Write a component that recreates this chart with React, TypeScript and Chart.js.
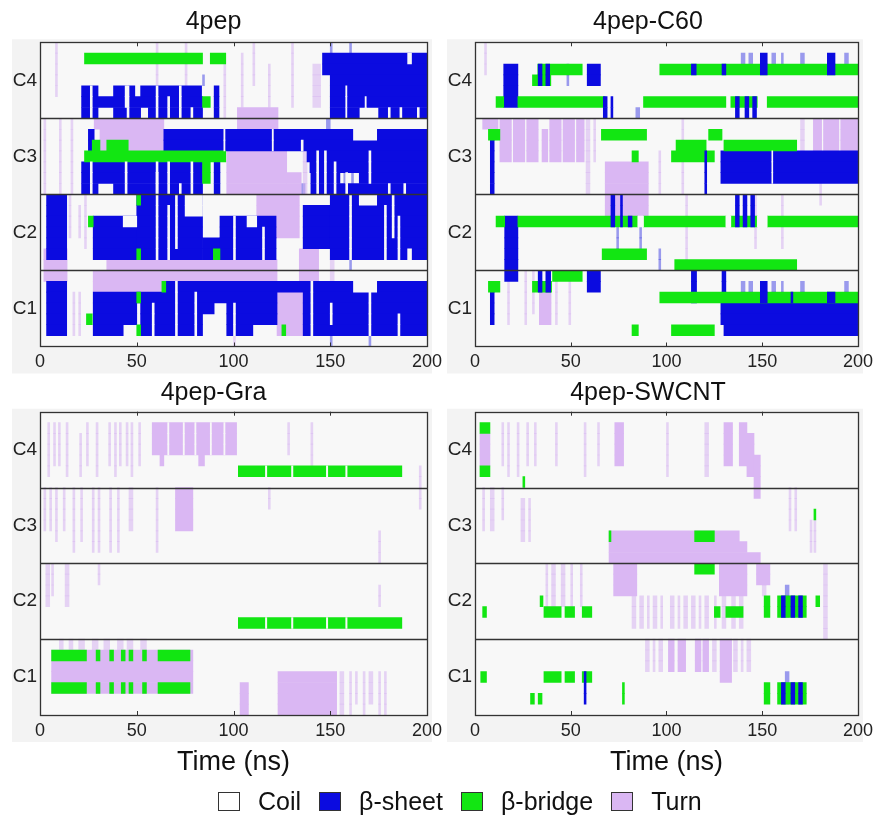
import React, { useEffect, useRef } from 'react';
import { Chart, registerables } from 'chart.js';

Chart.register(...registerables);

// ---------- data ----------
// Each segment: [firstRow, lastRow, startNs, endNs]; rows 0..27 from top (C4 rows 0-6, C3 7-13, C2 14-20, C1 21-27)
type Seg = [number, number, number, number];

const panelTitles = ['4pep', '4pep-C60', '4pep-Gra', '4pep-SWCNT'];
const chainLabels = ['C4', 'C3', 'C2', 'C1'];
const timeTicks = [0, 50, 100, 150, 200];
const legendLabels = ['Coil', 'β-sheet', 'β-bridge', 'Turn'];
const xAxisTitle = 'Time (ns)';
const ROWS_PER_CHAIN = 7;

// ---- 4pep ----
const pepSheet: Seg[] = [
  [1, 2, 146, 200], [3, 5, 150, 200], [6, 6, 150, 165], [6, 6, 175, 200],
  [4, 4, 21.5, 30], [4, 4, 38, 49], [4, 4, 52, 83.5], [4, 4, 90, 92.5],
  [5, 5, 21.5, 84], [5, 5, 90, 92.5],
  [6, 6, 21.5, 30], [6, 6, 38, 52], [6, 6, 56, 84], [6, 6, 90, 92.5],
  [8, 9, 25, 28], [8, 9, 64, 200],
  [10, 10, 138, 200],
  [11, 11, 21.5, 84], [11, 11, 90, 93], [11, 11, 139.5, 200],
  [12, 12, 21.5, 84], [12, 12, 90, 93], [12, 12, 140, 155], [12, 12, 165, 200],
  [13, 13, 21.5, 30], [13, 13, 38, 84], [13, 13, 90, 93], [13, 13, 140, 200],
  [14, 19, 3.4, 13.8], [16, 19, 27.5, 50], [14, 19, 50, 84],
  [18, 18, 84, 93], [19, 19, 84, 89.6],
  [16, 19, 93, 122], [15, 18, 136, 150], [14, 19, 150, 200],
  [22, 26, 3.4, 13.8], [22, 22, 65, 200],
  [23, 23, 27.5, 122.5], [23, 23, 136, 200],
  [24, 24, 27.5, 50], [24, 24, 52, 90], [24, 24, 96.5, 122.5], [24, 24, 136, 200],
  [25, 25, 27.5, 50], [25, 25, 52, 84], [25, 25, 96.5, 122.5], [25, 25, 136, 200],
  [26, 26, 27.5, 43], [26, 26, 52, 84], [26, 26, 96.5, 110], [26, 26, 136, 200],
];
const pepSheetStripe: Seg[] = [];
const pepSheetFaint: Seg[] = [
  [0, 0, 150, 151], [0, 0, 160, 161], [12, 12, 157, 158], [12, 12, 161, 162], [13, 13, 135, 137],
  [20, 20, 160, 161], [27, 27, 150, 151], [27, 27, 170, 171], [3, 3, 84, 85], [7, 7, 148, 150],
];
const pepBridge: Seg[] = [
  [1, 1, 23, 84], [1, 1, 88, 96], [5, 5, 84, 88],
  [9, 9, 27, 31], [9, 9, 34.5, 45.6], [10, 10, 23, 96], [11, 12, 84, 88],
  [14, 14, 50, 52], [16, 16, 25, 27.5], [19, 19, 89.6, 93], [19, 19, 50, 52],
  [22, 22, 63, 65], [23, 23, 50, 52], [26, 26, 50, 52], [26, 26, 125, 127], [25, 25, 24, 27],
];
const pepTurn: Seg[] = [
  [7, 7, 28, 64], [8, 9, 31, 64], [6, 7, 102, 123],
  [10, 13, 96.5, 127.5], [12, 13, 127.5, 135],
  [14, 17, 112, 134], [19, 21, 2, 14],
  [20, 21, 34.5, 122.5], [21, 21, 27.5, 34.5], [22, 22, 27.5, 64],
  [19, 21, 134, 144], [23, 26, 122.5, 136],
];
const pepTurnFaint: Seg[] = [
  [2, 5, 141, 145], [0, 3, 60, 61], [0, 3, 75, 76], [0, 3, 110, 111], [2, 5, 118, 119],
  [0, 5, 130, 131], [7, 13, 2, 3], [7, 13, 10, 11], [7, 13, 16, 17], [10, 13, 136, 138],
  [14, 17, 15, 16], [15, 17, 20, 21], [20, 21, 150, 152], [23, 26, 17, 18], [23, 26, 20, 21],
  [0, 4, 8, 9], [1, 5, 104, 105], [2, 6, 95, 96], [14, 18, 23, 24], [24, 27, 100, 101],
];
const pepCoil: Seg[] = [
  [8, 8, 162, 174], [14, 14, 165, 174], [16, 16, 43, 50], [14, 15, 75, 84],
  [16, 16, 107, 112], [19, 19, 190, 192], [22, 22, 162, 174], [1, 1, 190, 192],
  [4, 6, 45, 46], [11, 13, 60, 61], [24, 25, 150, 151], [14, 17, 182, 183],
  [4, 6, 158, 158.6], [5, 6, 168, 168.6], [6, 6, 180, 181], [6, 6, 186, 187], [6, 6, 195, 196],
  [10, 13, 143, 144], [10, 13, 147, 148], [11, 13, 152, 153], [12, 13, 158, 159], [10, 12, 170, 171],
  [13, 13, 180, 181], [13, 13, 188, 189],
  [4, 6, 26, 27], [4, 5, 44, 45], [4, 6, 60, 61], [5, 6, 66, 67], [4, 6, 72, 73], [6, 6, 78, 79],
  [11, 13, 26, 27], [11, 13, 44, 45], [12, 13, 60, 61], [11, 13, 66, 67], [13, 13, 72, 73], [11, 13, 78, 79],
  [14, 19, 60, 61], [15, 19, 66, 67], [14, 18, 70, 71], [16, 19, 100, 101], [17, 19, 115, 116],
  [14, 19, 160, 161], [15, 19, 178, 179], [16, 19, 185, 186],
  [22, 26, 70, 71], [23, 26, 80, 81], [24, 26, 100, 101], [22, 26, 140, 141], [23, 26, 170, 171],
  [25, 26, 185, 186], [24, 26, 58, 59], [8, 9, 95, 95.6], [8, 9, 120, 120.6], [9, 9, 135, 136],
];

// ---- 4pep-C60 ----
const c60Sheet: Seg[] = [
  [2, 5, 15, 22.4], [2, 3, 58.6, 65.5], [8, 13, 8, 10], [10, 12, 128.4, 200],
  [16, 21, 15.5, 22.4], [21, 22, 58.6, 65.5], [22, 25, 8, 10],
  [24, 25, 128.4, 200], [26, 26, 130, 200], [21, 23, 113, 115.7], [21, 23, 129, 131],
];
const c60SheetStripe: Seg[] = [
  [2, 3, 33, 35], [2, 3, 37, 39], [2, 2, 113, 115.5], [2, 2, 129, 131], [1, 2, 149, 152.6], [1, 2, 184, 188],
  [5, 6, 136, 138], [5, 6, 141, 143], [5, 6, 145, 147], [5, 6, 67, 69], [5, 6, 71, 72],
  [14, 16, 71, 73], [14, 16, 76, 77], [16, 16, 80, 82], [14, 16, 136, 138], [14, 16, 140, 142], [14, 16, 144, 146],
  [21, 22, 33, 35], [21, 22, 37, 39.5], [22, 23, 149, 152.6], [23, 23, 184, 188], [23, 23, 165, 166],
  [10, 13, 120, 121],
];
const c60SheetFaint: Seg[] = [
  [1, 1, 139, 141], [1, 1, 143, 145], [1, 1, 155, 157], [1, 1, 160, 161], [1, 1, 170, 172], [1, 1, 193, 195],
  [2, 3, 48, 49], [22, 23, 139, 141], [22, 23, 143, 145], [22, 23, 155, 157], [22, 23, 160, 161],
  [22, 23, 170, 172], [22, 23, 193, 195], [17, 19, 74, 75], [17, 18, 86, 87], [6, 6, 84, 86], [19, 20, 96, 97],
];
const c60Bridge: Seg[] = [
  [2, 2, 32.8, 56], [3, 3, 30, 39.6], [2, 2, 96.5, 200],
  [5, 5, 11, 15], [5, 5, 22.4, 68], [5, 5, 88, 131], [5, 5, 133.6, 147.4], [5, 5, 152.6, 200],
  [8, 8, 7, 13], [8, 8, 66, 89.6], [8, 8, 122, 129], [9, 9, 105, 120.7], [9, 9, 130, 168],
  [10, 10, 102.6, 125], [10, 10, 82, 85.3],
  [16, 16, 11, 15.5], [16, 16, 22.4, 85], [16, 16, 88, 131], [16, 16, 133.6, 147.4], [16, 16, 152.6, 200],
  [19, 19, 66.4, 89.6], [20, 20, 104.3, 168],
  [21, 21, 40.5, 56], [22, 22, 30, 40], [22, 22, 7, 13], [23, 23, 96.5, 200],
  [26, 26, 82, 85.3], [26, 26, 102.6, 125],
];
const c60Turn: Seg[] = [
  [7, 7, 4, 12], [7, 10, 13, 19], [7, 10, 20, 26], [7, 10, 27, 33], [8, 10, 35, 38],
  [7, 10, 39, 45], [7, 10, 46, 52], [7, 10, 53, 57],
  [7, 9, 176.7, 181], [7, 9, 182, 190], [7, 9, 191, 200],
  [11, 15, 68, 90.5], [23, 25, 33.6, 39.7],
];
const c60TurnFaint: Seg[] = [
  [7, 13, 58, 60], [7, 10, 62, 63], [10, 13, 96, 97], [7, 9, 170, 172], [21, 25, 17, 18], [21, 25, 26, 27],
  [21, 24, 30, 31], [21, 25, 42, 43], [21, 25, 49, 50], [13, 14, 180, 181], [7, 13, 108, 109],
  [14, 20, 110, 111], [14, 18, 146, 147], [14, 18, 160, 161], [0, 2, 5, 6],
];
const c60Coil: Seg[] = [[2, 2, 84, 85], [16, 16, 85, 88], [16, 16, 131, 133.6], [16, 16, 147.4, 152.6], [10, 12, 155, 155.5]];

// ---- 4pep-Gra ----
const graSheet: Seg[] = [];
const graSheetStripe: Seg[] = [];
const graSheetFaint: Seg[] = [];
const graBridge: Seg[] = [
  [5, 5, 102.5, 187], [19, 19, 102.5, 187],
  [22, 22, 6, 24], [22, 22, 29, 31], [22, 22, 36, 38], [22, 22, 42, 44], [22, 22, 46, 48], [22, 22, 53, 55], [22, 22, 61, 77.5],
  [25, 25, 6, 24], [25, 25, 29, 31], [25, 25, 36, 38], [25, 25, 42, 44], [25, 25, 46, 48], [25, 25, 53, 55], [25, 25, 61, 77.5],
];
const graTurn: Seg[] = [
  [1, 3, 58, 101.6], [4, 4, 62, 64], [4, 4, 82, 85], [7, 10, 70, 79],
  [22, 25, 6, 79], [24, 27, 123, 153.3], [25, 27, 103.4, 107.7],
];
const graTurnFaint: Seg[] = [
  [1, 5, 4, 5], [1, 4, 7, 8], [1, 4, 9.5, 10.5], [1, 5, 13.5, 14.5], [2, 5, 20.5, 21.5], [1, 4, 24, 25],
  [1, 5, 29, 30], [1, 4, 35.5, 36.5], [1, 5, 38.5, 39.5], [1, 4, 41, 42], [1, 4, 44.5, 45.5], [1, 5, 47, 48],
  [1, 4, 51, 52], [7, 10, 2, 3], [7, 10, 5, 6], [7, 11, 8, 9], [7, 10, 12, 13], [7, 12, 17, 18], [7, 11, 21, 22],
  [7, 12, 27, 28], [7, 12, 30, 31], [7, 12, 36, 37], [7, 12, 40, 41], [7, 10, 46, 48], [7, 12, 60, 61],
  [14, 17, 3, 5], [14, 17, 13, 15], [14, 16, 6, 7], [21, 21, 10, 12], [21, 21, 15, 17], [21, 21, 20, 23],
  [21, 21, 27, 30], [21, 21, 33, 36], [21, 21, 40, 43], [21, 21, 45, 48], [21, 21, 52, 55],
  [24, 27, 155, 157], [24, 27, 160, 161], [24, 26, 163, 164], [24, 27, 167, 168], [24, 26, 170, 172],
  [24, 27, 175, 176], [24, 27, 178, 179], [7, 8, 118, 119], [1, 3, 128, 129], [1, 4, 140, 141],
  [11, 13, 175, 176], [16, 17, 175, 176], [5, 8, 196, 197], [14, 15, 30, 31],
];
const graCoil: Seg[] = [
  [5, 5, 116.5, 117.2], [5, 5, 130, 130.7], [5, 5, 148, 148.7], [5, 5, 158, 158.7],
  [19, 19, 116.5, 117.2], [19, 19, 130, 130.7], [19, 19, 148, 148.7], [19, 19, 158, 158.7],
  [1, 3, 66, 66.6], [1, 3, 74, 74.6], [1, 3, 80, 80.6], [1, 3, 88, 88.6], [1, 3, 95, 95.6],
];

// ---- 4pep-SWCNT ----
const swSheet: Seg[] = [];
const swSheetStripe: Seg[] = [
  [17, 18, 160, 162], [17, 18, 165, 167], [17, 18, 169, 171],
  [25, 26, 160, 162], [25, 26, 165, 167], [25, 26, 169, 171], [24, 26, 57, 58],
];
const swSheetFaint: Seg[] = [[16, 18, 162, 164], [24, 26, 162, 164]];
const swBridge: Seg[] = [
  [1, 1, 2.6, 7.8], [5, 5, 2.6, 7.8], [6, 6, 25, 26], [11, 11, 114.7, 125], [14, 14, 114.7, 125],
  [18, 18, 4, 6], [17, 17, 34, 35.5], [18, 18, 36, 45], [18, 18, 47, 52], [18, 18, 56, 61],
  [18, 18, 125, 128], [18, 18, 131, 140], [17, 18, 151, 154], [17, 18, 158, 173],
  [24, 24, 36, 45], [24, 24, 47, 52], [24, 24, 56, 61], [24, 24, 3, 6],
  [25, 26, 151, 154], [25, 26, 158, 173], [26, 26, 29, 31], [26, 26, 33, 35], [25, 26, 77, 78],
  [17, 17, 178, 180], [9, 9, 177, 178], [11, 11, 70, 71],
];
const swTurn: Seg[] = [
  [2, 4, 2.6, 7.8], [11, 11, 70, 138], [12, 12, 70, 142], [13, 13, 70, 149],
  [14, 16, 72.4, 84.5], [14, 16, 127.6, 142], [14, 15, 147, 154],
  [1, 4, 73, 77.6], [1, 4, 130, 134.5], [1, 4, 138, 142], [2, 5, 142, 145.7], [4, 7, 145.7, 149],
  [21, 23, 101, 104], [21, 23, 106, 110], [21, 23, 115, 118], [21, 23, 119, 122], [21, 24, 128, 134],
];
const swTurnFaint: Seg[] = [
  [1, 4, 14, 15], [1, 5, 17, 18], [1, 5, 22, 23], [1, 4, 27, 28], [1, 4, 31, 32], [1, 4, 42, 43],
  [1, 5, 57, 58], [1, 4, 64, 65], [7, 10, 4, 5], [7, 10, 8, 10], [7, 9, 14, 15], [8, 11, 24, 26],
  [8, 11, 28, 29], [14, 17, 37, 38], [14, 17, 40, 42], [14, 17, 45, 47], [14, 17, 50, 51], [14, 17, 55, 56],
  [17, 19, 82, 84], [17, 19, 86, 88], [17, 19, 90, 91], [17, 19, 93, 95], [17, 19, 97, 98],
  [17, 19, 102, 104], [17, 19, 106, 107], [17, 19, 109, 111], [17, 19, 113, 115], [17, 19, 117, 118],
  [17, 19, 120, 122], [17, 19, 125, 126], [17, 19, 129, 131], [17, 19, 134, 136], [17, 19, 138, 140],
  [21, 23, 89, 91], [21, 23, 93, 94], [21, 23, 96, 98], [21, 23, 124, 126],
  [21, 23, 135, 137], [21, 23, 139, 140], [21, 23, 142, 144],
  [7, 10, 164, 165], [7, 10, 167, 168], [10, 12, 175, 176], [10, 12, 177, 178], [14, 16, 150, 152],
  [14, 20, 182, 184], [1, 5, 100, 101], [1, 5, 120, 122],
];
const swCoil: Seg[] = [];

// ---------- styling ----------
const FONT = "'Liberation Sans', Arial, Helvetica, sans-serif";
const COLORS = {
  plot: '#f8f8f8',
  panel: '#f3f3f3',
  coil: '#f8f8f8',
  sheet: '#0b0be0',
  sheetFaint: 'rgba(40,40,225,0.45)',
  bridge: '#12e612',
  turn: '#dab7f3',
  turnFaint: 'rgba(214,178,240,0.55)',
  frame: '#333333',
};

const rowLabels = Array.from({ length: ROWS_PER_CHAIN * chainLabels.length }, (_, i) => 'r' + i);

function toBars(segs: Seg[]) {
  const out: { x: [number, number]; y: string }[] = [];
  for (const [r0, r1, t0, t1] of segs) {
    for (let r = r0; r <= r1; r++) out.push({ x: [t0, t1], y: rowLabels[r] });
  }
  return out;
}

type PanelData = {
  sheet: Seg[]; sheetStripe: Seg[]; sheetFaint: Seg[]; bridge: Seg[];
  turn: Seg[]; turnFaint: Seg[]; coil: Seg[];
};

const panelData: PanelData[] = [
  { sheet: pepSheet, sheetStripe: pepSheetStripe, sheetFaint: pepSheetFaint, bridge: pepBridge, turn: pepTurn, turnFaint: pepTurnFaint, coil: pepCoil },
  { sheet: c60Sheet, sheetStripe: c60SheetStripe, sheetFaint: c60SheetFaint, bridge: c60Bridge, turn: c60Turn, turnFaint: c60TurnFaint, coil: c60Coil },
  { sheet: graSheet, sheetStripe: graSheetStripe, sheetFaint: graSheetFaint, bridge: graBridge, turn: graTurn, turnFaint: graTurnFaint, coil: graCoil },
  { sheet: swSheet, sheetStripe: swSheetStripe, sheetFaint: swSheetFaint, bridge: swBridge, turn: swTurn, turnFaint: swTurnFaint, coil: swCoil },
];

const framePlugin = {
  id: 'sstFrame',
  beforeDraw(chart: any) {
    const { ctx, chartArea: a } = chart;
    ctx.save();
    ctx.fillStyle = COLORS.panel;
    ctx.fillRect(a.left - 28, a.top - 3, a.right - a.left + 33, a.bottom - a.top + 30);
    ctx.fillStyle = COLORS.plot;
    ctx.fillRect(a.left, a.top, a.right - a.left, a.bottom - a.top);
    ctx.restore();
  },
  afterDatasetsDraw(chart: any) {
    const { ctx, chartArea: a } = chart;
    const xs = chart.scales.x;
    const ys = chart.scales.y;
    ctx.save();
    ctx.strokeStyle = COLORS.frame;
    ctx.lineWidth = 1.3;
    for (let k = 1; k < chainLabels.length; k++) {
      const py = Math.round(ys.getPixelForValue(k * ROWS_PER_CHAIN - 0.5)) + 0.5;
      ctx.beginPath();
      ctx.moveTo(a.left, py);
      ctx.lineTo(a.right, py);
      ctx.stroke();
    }
    ctx.strokeRect(Math.round(a.left) + 0.5, Math.round(a.top) + 0.5, Math.round(a.right - a.left), Math.round(a.bottom - a.top));
    ctx.lineWidth = 1;
    for (const v of timeTicks) {
      if (v === timeTicks[0] || v === timeTicks[timeTicks.length - 1]) continue;
      const px = Math.round(xs.getPixelForValue(v)) + 0.5;
      ctx.beginPath();
      ctx.moveTo(px, a.top);
      ctx.lineTo(px, a.top + 4);
      ctx.moveTo(px, a.bottom);
      ctx.lineTo(px, a.bottom - 4);
      ctx.stroke();
    }
    ctx.restore();
  },
};

type PanelProps = {
  idx: number; left: number; top: number; width: number; height: number;
  padRight: number; xHeight: number; titlePadTop: number; titlePadBottom: number; showXTitle: boolean;
};

function Panel(p: PanelProps) {
  const ref = useRef<HTMLCanvasElement | null>(null);
  useEffect(() => {
    if (!ref.current) return;
    const d = panelData[p.idx];
    const ds = (label: string, segs: Seg[], color: string) => ({
      label,
      data: toBars(segs) as any,
      backgroundColor: color,
      borderWidth: 0,
      grouped: false,
      barPercentage: 1,
      categoryPercentage: 1,
    });
    const chart = new Chart(ref.current, {
      type: 'bar',
      data: {
        labels: rowLabels,
        datasets: [
          ds('Coil', d.coil, COLORS.coil),
          ds('β-sheet stripes', d.sheetStripe, COLORS.sheet),
          ds('β-bridge', d.bridge, COLORS.bridge),
          ds('β-sheet', d.sheet, COLORS.sheet),
          ds('Turn', d.turn, COLORS.turn),
          ds('Turn (sparse)', d.turnFaint, COLORS.turnFaint),
          ds('β-sheet (sparse)', d.sheetFaint, COLORS.sheetFaint),
        ] as any,
      },
      options: {
        indexAxis: 'y',
        animation: false,
        responsive: false,
        maintainAspectRatio: false,
        layout: { padding: { left: 0, right: p.padRight, top: 0, bottom: 0 } },
        plugins: {
          legend: { display: false },
          tooltip: { enabled: false },
          title: {
            display: true,
            text: panelTitles[p.idx],
            color: '#111',
            font: { family: FONT, size: 25, weight: 'normal' },
            padding: { top: p.titlePadTop, bottom: p.titlePadBottom },
          },
        },
        scales: {
          x: {
            type: 'linear',
            position: 'bottom',
            min: timeTicks[0],
            max: timeTicks[timeTicks.length - 1],
            afterBuildTicks: (s: any) => { s.ticks = timeTicks.map((v) => ({ value: v })); },
            ticks: { color: '#222', font: { family: FONT, size: 18 }, padding: 5, maxRotation: 0, autoSkip: false },
            grid: { display: false, drawTicks: false },
            border: { display: false },
            title: {
              display: p.showXTitle,
              text: xAxisTitle,
              color: '#111',
              font: { family: FONT, size: 27 },
              padding: { top: 0, bottom: 36 },
            },
            afterFit: (s: any) => { s.height = p.xHeight; },
          },
          y: {
            type: 'category',
            offset: true,
            ticks: {
              autoSkip: false,
              color: '#222',
              font: { family: FONT, size: 19 },
              padding: 3,
              callback: (_v: any, i: number) =>
                i % ROWS_PER_CHAIN === Math.floor(ROWS_PER_CHAIN / 2) ? chainLabels[Math.floor(i / ROWS_PER_CHAIN)] : '',
            },
            grid: { display: false, drawTicks: false },
            border: { display: false },
            afterFit: (s: any) => { s.width = 40; },
          },
        },
      } as any,
      plugins: [framePlugin],
    });
    return () => chart.destroy();
  }, []);
  return (
    <canvas
      ref={ref}
      width={p.width}
      height={p.height}
      style={{ position: 'absolute', left: p.left, top: p.top, width: p.width, height: p.height }}
    />
  );
}

const legendColors = ['#ffffff', COLORS.sheet, COLORS.bridge, COLORS.turn];

export default function App() {
  return (
    <div style={{ position: 'absolute', left: 0, top: 0, width: 878, height: 815, background: '#ffffff', overflow: 'hidden', fontFamily: FONT }}>
      <Panel idx={0} left={0} top={0} width={460} height={375} padRight={33} xHeight={28.5} titlePadTop={7.4} titlePadBottom={4.9} showXTitle={false} />
      <Panel idx={1} left={435} top={0} width={443} height={375} padRight={17} xHeight={28.5} titlePadTop={7.4} titlePadBottom={4.9} showXTitle={false} />
      <Panel idx={2} left={0} top={375} width={460} height={440} padRight={33} xHeight={100} titlePadTop={3.4} titlePadBottom={3.3} showXTitle={true} />
      <Panel idx={3} left={435} top={375} width={443} height={440} padRight={17} xHeight={100} titlePadTop={3.4} titlePadBottom={3.3} showXTitle={true} />
      <div style={{ position: 'absolute', left: 218, top: 787, height: 28, display: 'flex', alignItems: 'center', fontSize: 25, color: '#111', whiteSpace: 'nowrap', zIndex: 2 }}>
        {legendLabels.map((lab, i) => (
          <div key={lab} style={{ display: 'flex', alignItems: 'center', marginRight: 18 }}>
            <span style={{ display: 'inline-block', width: 20, height: 17, border: '1.5px solid #333', background: legendColors[i], boxSizing: 'content-box' }} />
            <span style={{ marginLeft: 18, lineHeight: '28px' }}>{lab}</span>
          </div>
        ))}
      </div>
    </div>
  );
}
